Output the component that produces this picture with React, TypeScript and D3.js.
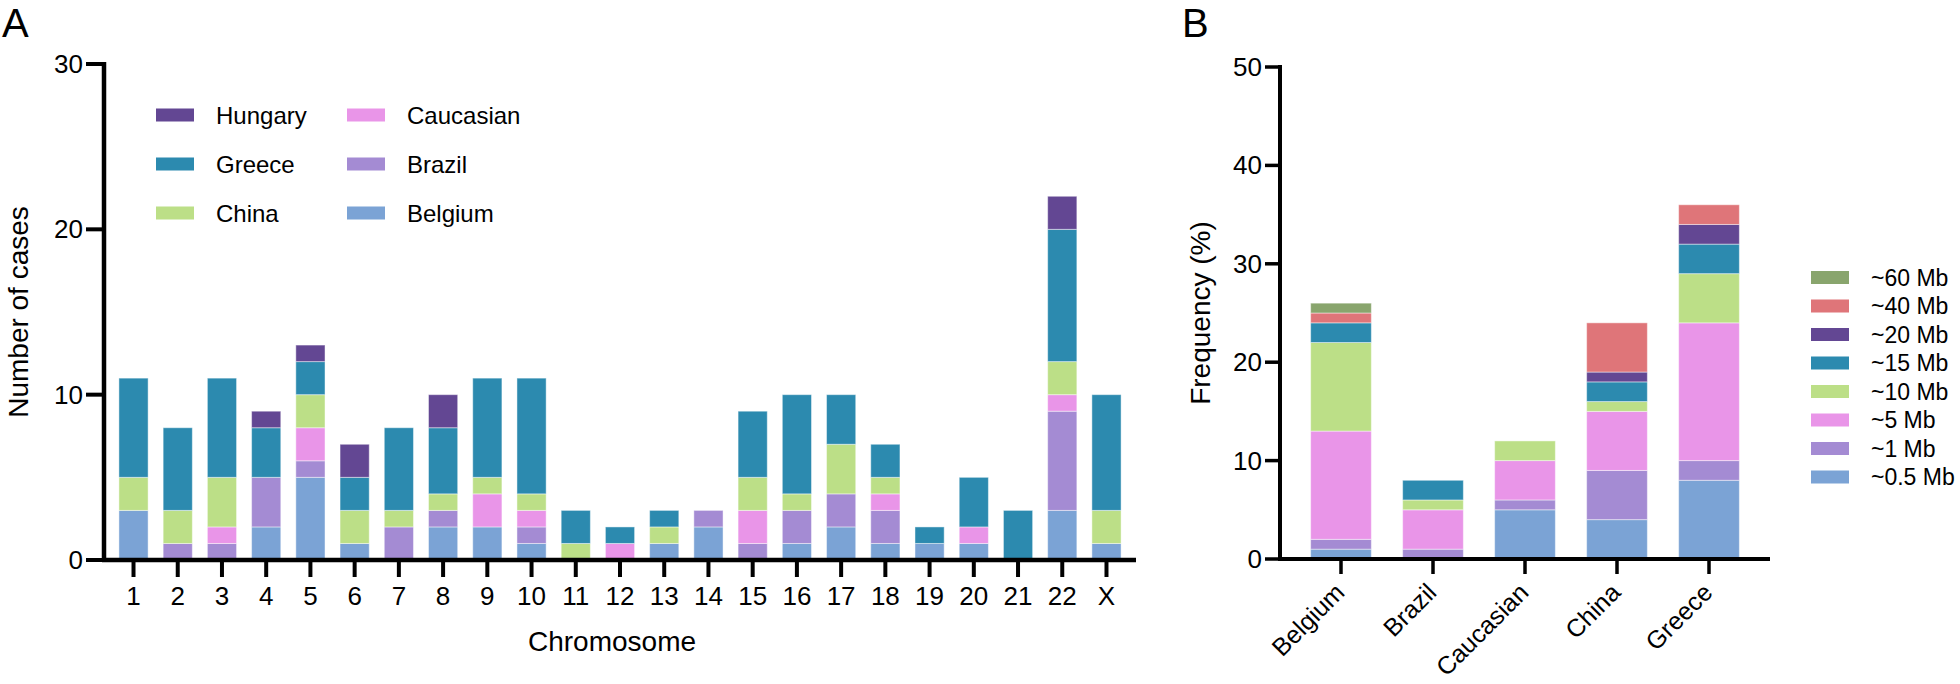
import * as d3 from 'd3';

const chromosomes = ['1','2','3','4','5','6','7','8','9','10','11','12','13','14','15','16','17','18','19','20','21','22','X'];
const countries = ['Belgium', 'Brazil', 'Caucasian', 'China', 'Greece', 'Hungary'];

const belgium   = [3,0,0,2,5,1,0,2,2,1,0,0,1,2,0,1,2,1,1,1,0,3,1];
const brazil    = [0,1,1,3,1,0,2,1,0,1,0,0,0,1,1,2,2,2,0,0,0,6,0];
const caucasian = [0,0,1,0,2,0,0,0,2,1,0,1,0,0,2,0,0,1,0,1,0,1,0];
const china     = [2,2,3,0,2,2,1,1,1,1,1,0,1,0,2,1,3,1,0,0,0,2,2];
const greece    = [6,5,6,3,2,2,5,4,6,7,2,1,1,0,4,6,3,2,1,3,3,8,7];
const hungary   = [0,0,0,1,1,2,0,2,0,0,0,0,0,0,0,0,0,0,0,0,0,2,0];
const countTicks = [0, 10, 20, 30];

const groups = ['Belgium', 'Brazil', 'Caucasian', 'China', 'Greece'];
const sizes = ['~0.5 Mb', '~1 Mb', '~5 Mb', '~10 Mb', '~15 Mb', '~20 Mb', '~40 Mb', '~60 Mb'];
const mb05 = [1, 0, 5, 4, 8];
const mb1  = [1, 1, 1, 5, 2];
const mb5  = [11, 4, 4, 6, 14];
const mb10 = [9, 1, 2, 1, 5];
const mb15 = [2, 2, 0, 2, 3];
const mb20 = [0, 0, 0, 1, 2];
const mb40 = [1, 0, 0, 5, 2];
const mb60 = [1, 0, 0, 0, 0];
const freqTicks = [0, 10, 20, 30, 40, 50];

const palette = ['#7ba3d5', '#a48bd3', '#e995e8', '#bcdf87', '#2c8aaf', '#634793', '#df7579', '#89a56d'];
const font = '"Liberation Sans", Arial, Helvetica, sans-serif';

const seriesA = [belgium, brazil, caucasian, china, greece, hungary];
const tableA = chromosomes.map((c, i) => {
    const row: any = { key: c };
    countries.forEach((k, j) => { row[k] = seriesA[j][i]; });
    return row;
});
const seriesB = [mb05, mb1, mb5, mb10, mb15, mb20, mb40, mb60];
const tableB = groups.map((g, i) => {
    const row: any = { key: g };
    sizes.forEach((k, j) => { row[k] = seriesB[j][i]; });
    return row;
});

const App = () => {
    // panel A
    const axA = { left: 104, right: 1136, top: 64, bottom: 560 };
    const xA = d3.scaleBand().domain(chromosomes).range([111.4, 1128.6]).paddingInner(0.34).paddingOuter(0.17);
    const yA = d3.scaleLinear().domain([0, 30]).range([axA.bottom, axA.top]);
    const stackA = d3.stack().keys(countries)(tableA as any);

    // panel B
    const axB = { left: 1280, right: 1770, top: 67, bottom: 559 };
    const xB = d3.scaleBand().domain(groups).range([1295, 1755]).paddingInner(0.34).paddingOuter(0.17);
    const yB = d3.scaleLinear().domain([0, 50]).range([axB.bottom, axB.top]);
    const stackB = d3.stack().keys(sizes)(tableB as any);

    const legendA = [
        { name: 'Hungary', col: 0, row: 0 },
        { name: 'Greece', col: 0, row: 1 },
        { name: 'China', col: 0, row: 2 },
        { name: 'Caucasian', col: 1, row: 0 },
        { name: 'Brazil', col: 1, row: 1 },
        { name: 'Belgium', col: 1, row: 2 },
    ];

    return (
        <svg width={1960} height={684} style={{ position: 'absolute', left: 0, top: 0, background: '#fff' }} fontFamily={font}>
            <rect width={1960} height={684} fill="#fff" />

            {/* ---------- A ---------- */}
            <text x={2} y={37} fontSize={40}>A</text>

            {stackA.map((layer, j) => (
                <g key={layer.key} fill={palette[j]}>
                    {layer.map((d, i) => d[1] > d[0] ? (
                        <rect key={i}
                            x={xA(chromosomes[i])}
                            y={yA(d[1])}
                            width={xA.bandwidth()}
                            height={yA(d[0]) - yA(d[1])}
                            stroke="rgba(255,255,255,0.45)"
                            strokeWidth={1}
                        />
                    ) : null)}
                </g>
            ))}

            <line x1={axA.left} x2={axA.left} y1={yA(30) - 2} y2={axA.bottom + 2} stroke="#000" strokeWidth={4.5} />
            <line x1={axA.left - 2} x2={axA.right} y1={axA.bottom} y2={axA.bottom} stroke="#000" strokeWidth={4.5} />
            {countTicks.map(t => (
                <g key={t}>
                    <line x1={86} x2={axA.left} y1={yA(t)} y2={yA(t)} stroke="#000" strokeWidth={4} />
                    <text x={83} y={yA(t) + 9} fontSize={26} textAnchor="end">{t}</text>
                </g>
            ))}
            {chromosomes.map(c => {
                const cx = (xA(c) as number) + xA.bandwidth() / 2;
                return (
                    <g key={c}>
                        <line x1={cx} x2={cx} y1={axA.bottom} y2={577} stroke="#000" strokeWidth={4} />
                        <text x={cx} y={605} fontSize={26} textAnchor="middle">{c}</text>
                    </g>
                );
            })}
            <text x={612} y={651} fontSize={28} textAnchor="middle">Chromosome</text>
            <text transform={`translate(28,312) rotate(-90)`} fontSize={28} textAnchor="middle">Number of cases</text>

            {legendA.map(l => {
                const sx = l.col === 0 ? 156 : 347;
                const cy = 115 + l.row * 49;
                return (
                    <g key={l.name}>
                        <rect x={sx} y={cy - 6.5} width={38} height={13} fill={palette[countries.indexOf(l.name)]} />
                        <text x={sx + 60} y={cy + 8.5} fontSize={24}>{l.name}</text>
                    </g>
                );
            })}

            {/* ---------- B ---------- */}
            <text x={1182} y={37} fontSize={40}>B</text>

            {stackB.map((layer, j) => (
                <g key={layer.key} fill={palette[j]}>
                    {layer.map((d, i) => d[1] > d[0] ? (
                        <rect key={i}
                            x={xB(groups[i])}
                            y={yB(d[1])}
                            width={xB.bandwidth()}
                            height={yB(d[0]) - yB(d[1])}
                            stroke="rgba(255,255,255,0.45)"
                            strokeWidth={1}
                        />
                    ) : null)}
                </g>
            ))}

            <line x1={axB.left} x2={axB.left} y1={yB(50) - 2} y2={axB.bottom + 2} stroke="#000" strokeWidth={4} />
            <line x1={axB.left - 2} x2={axB.right} y1={axB.bottom} y2={axB.bottom} stroke="#000" strokeWidth={4} />
            {freqTicks.map(t => (
                <g key={t}>
                    <line x1={1265} x2={axB.left} y1={yB(t)} y2={yB(t)} stroke="#000" strokeWidth={3.5} />
                    <text x={1262} y={yB(t) + 9} fontSize={26} textAnchor="end">{t}</text>
                </g>
            ))}
            {groups.map(g => {
                const cx = (xB(g) as number) + xB.bandwidth() / 2;
                return (
                    <g key={g}>
                        <line x1={cx} x2={cx} y1={axB.bottom} y2={574} stroke="#000" strokeWidth={3.5} />
                        <text transform={`translate(${cx + 5},${594}) rotate(-45)`} fontSize={25} textAnchor="end">{g}</text>
                    </g>
                );
            })}
            <text transform={`translate(1210,313) rotate(-90)`} fontSize={28} textAnchor="middle">Frequency (%)</text>

            {sizes.slice().reverse().map((s, i) => {
                const cy = 277.5 + i * 28.5;
                return (
                    <g key={s}>
                        <rect x={1811} y={cy - 6.5} width={38} height={13} fill={palette[sizes.indexOf(s)]} />
                        <text x={1871} y={cy + 8} fontSize={23}>{s}</text>
                    </g>
                );
            })}
        </svg>
    );
};

export default App;
